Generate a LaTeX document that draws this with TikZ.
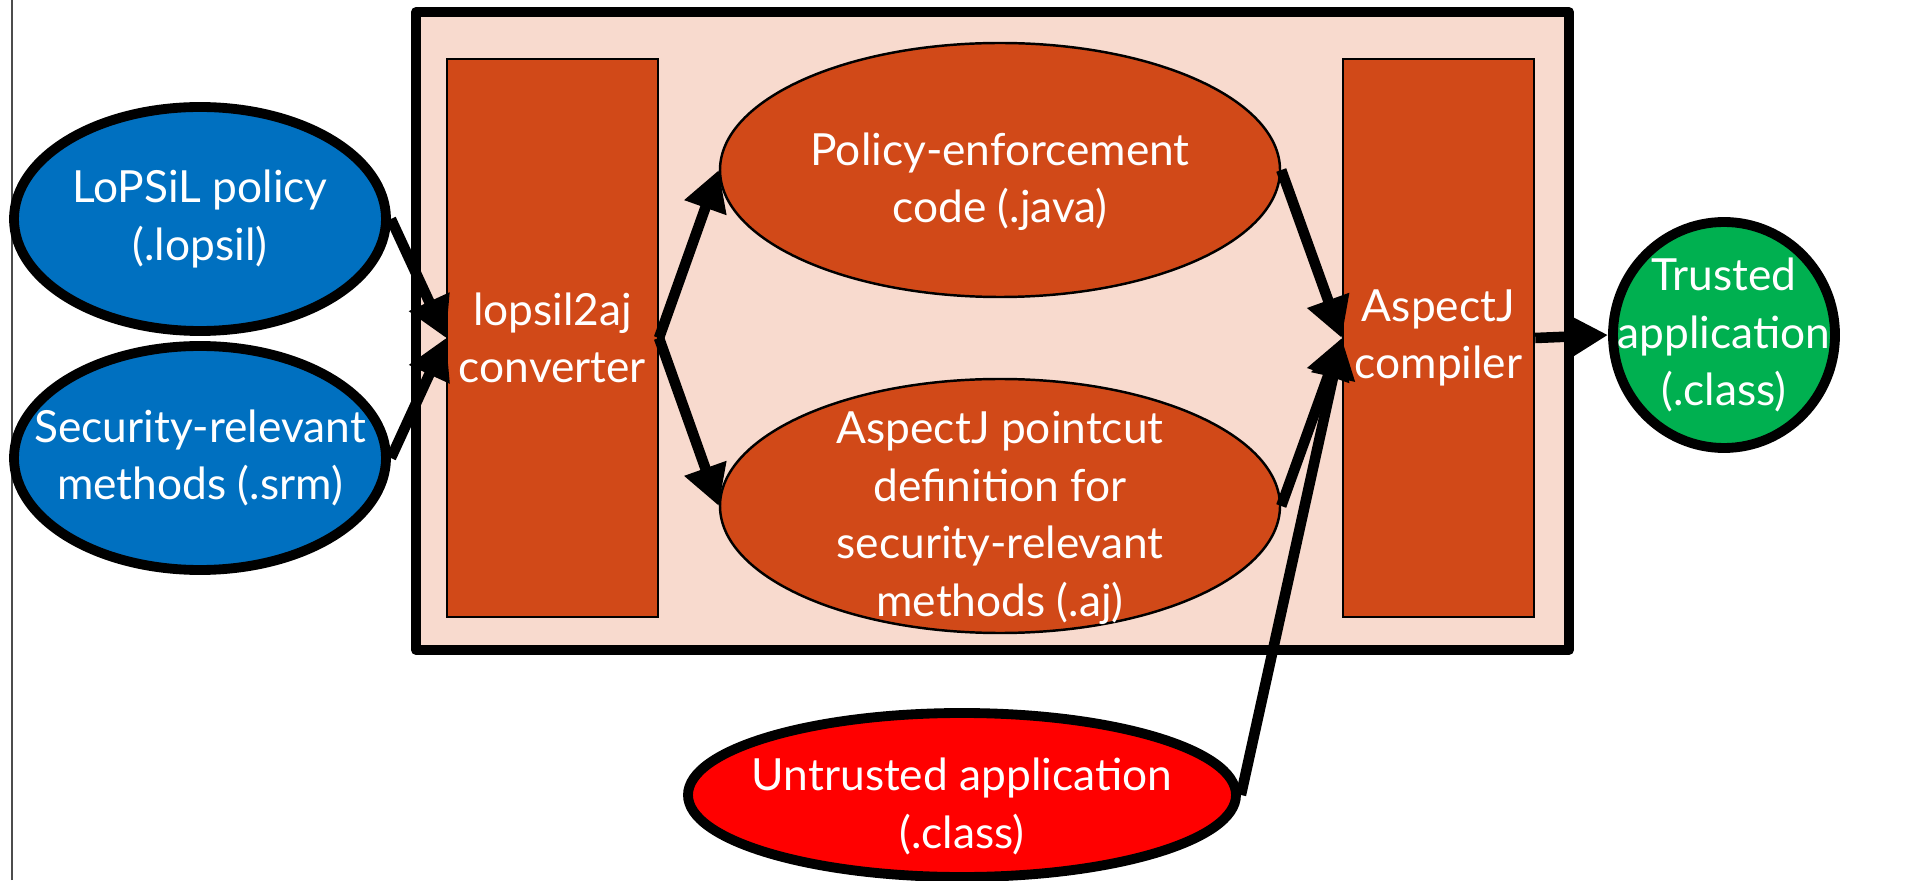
\documentclass[tikz,border=0pt]{standalone}
\usepackage{fontspec}
\setmainfont{Lato}
\usetikzlibrary{shapes.geometric,arrows.meta}
\definecolor{peach}{RGB}{248,218,206}
\definecolor{rust}{RGB}{209,73,24}
\definecolor{srcblue}{RGB}{0,112,192}
\definecolor{okgreen}{RGB}{0,176,80}
\definecolor{badred}{RGB}{255,0,0}
% invisible prop that pushes a label a little lower in its shape
\newcommand{\sink}{\rule{0pt}{5.6mm}}
\begin{document}
\begin{tikzpicture}[
	font=\fontsize{12.6}{16.4}\selectfont,
	every node/.style={text=white,align=center},
	blob/.style={ellipse,draw=black,line width=2.8pt,inner sep=-4mm},
	artefact/.style={ellipse,draw=black,line width=0.7pt,fill=rust,inner sep=-4mm,minimum width=5.6cm,minimum height=2.54cm},
	stage/.style={rectangle,draw=black,line width=0.7pt,fill=rust,minimum height=5.58cm},
	flow/.style={line width=3pt,-{Triangle[length=4mm,width=4.2mm]}}]
	\useasboundingbox (0,0) rectangle (19.05,8.8);
	\draw[black!70,line width=0.5pt] (0.12,0) -- (0.12,8.8);
	% the converter chain
	\draw[fill=peach,line width=2.8pt,line join=round] (4.16,2.3) rectangle (15.69,8.68);
	\node[stage,minimum width=2.07cm] (conv) at (5.525,5.42) {lopsil2aj\\converter};
	\node[stage,minimum width=1.91cm] (ajc) at (14.385,5.42) {AspectJ\\compiler};
	\node[artefact] (enforce) at (10,7.1) {\sink Policy-enforcement\\code (.java)};
	\node[artefact] (pointcut) at (10,3.74) {\sink AspectJ pointcut\\definition for\\security-relevant\\methods (.aj)};
	% inputs and output
	\node[blob,fill=srcblue,minimum width=3.72cm,minimum height=2.24cm] (policy) at (2,6.61) {LoPSiL policy\\(.lopsil)};
	\node[blob,fill=srcblue,minimum width=3.72cm,minimum height=2.24cm] (srm) at (2,4.22) {Security-relevant\\methods (.srm)};
	\node[blob,fill=badred,minimum width=5.48cm,minimum height=1.64cm] (untrusted) at (9.62,0.85) {\sink Untrusted application\\(.class)};
	\node[blob,fill=okgreen,minimum width=2.22cm,minimum height=2.26cm] (trusted) at (17.24,5.45) {Trusted\\application\\(.class)};
	% arrows
	\draw[flow] (policy.east) -- (conv.west);
	\draw[flow] (srm.east) -- (conv.west);
	\draw[flow] (conv.east) -- (enforce.west);
	\draw[flow] (conv.east) -- (pointcut.west);
	\draw[flow] (enforce.east) -- (ajc.west);
	\draw[flow] (pointcut.east) -- (ajc.west);
	\draw[flow] (untrusted.east) -- (ajc.west);
	\draw[flow] (ajc.east) -- (trusted.west);
\end{tikzpicture}
\end{document}
